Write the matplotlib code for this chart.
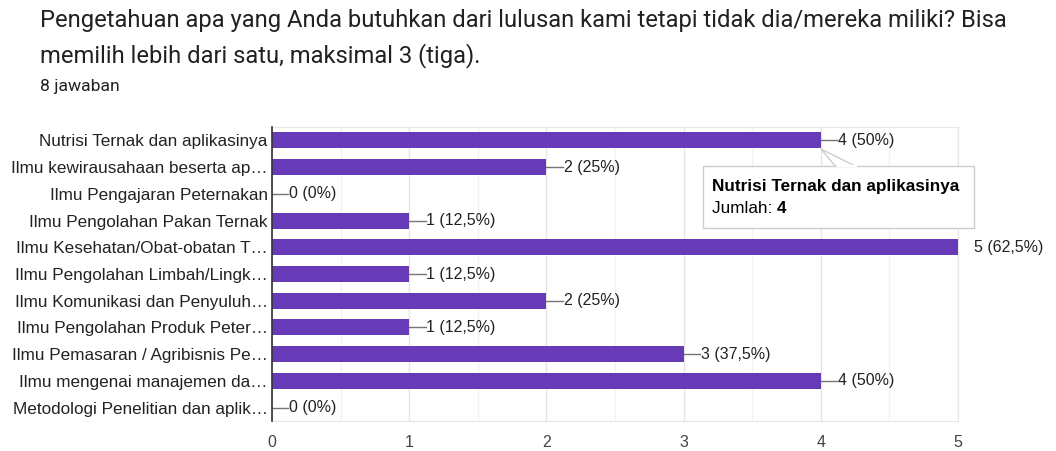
import matplotlib.pyplot as plt
from matplotlib.patches import FancyBboxPatch, Polygon
import numpy as np

plt.rcParams['font.family'] = ['Liberation Sans', 'DejaVu Sans']

#%% Data
categories = [
    "Nutrisi Ternak dan aplikasinya",
    "Ilmu kewirausahaan beserta ap…",
    "Ilmu Pengajaran Peternakan",
    "Ilmu Pengolahan Pakan Ternak",
    "Ilmu Kesehatan/Obat-obatan T…",
    "Ilmu Pengolahan Limbah/Lingk…",
    "Ilmu Komunikasi dan Penyuluh…",
    "Ilmu Pengolahan Produk Peter…",
    "Ilmu Pemasaran / Agribisnis Pe…",
    "Ilmu mengenai manajemen da…",
    "Metodologi Penelitian dan aplik…",
]
counts = [4, 2, 0, 1, 5, 1, 2, 1, 3, 4, 0]
labels = ["4 (50%)", "2 (25%)", "0 (0%)", "1 (12,5%)", "5 (62,5%)", "1 (12,5%)",
          "2 (25%)", "1 (12,5%)", "3 (37,5%)", "4 (50%)", "0 (0%)"]
xticks = [0, 1, 2, 3, 4, 5]

#%% Plot
W, H = 1056, 451
fig = plt.figure(figsize=(W / 100, H / 100), dpi=100)
ax = fig.add_axes([272 / W, 1 - 421 / H, (958 - 272) / W, (421 - 127) / H])

purple = '#673ab7'
fs = 12.3
fv = 11.5
y = np.arange(len(categories))
ax.barh(y, counts, height=0.6, color=purple, zorder=3)
ax.set_ylim(len(categories) - 0.5, -0.5)
ax.set_xlim(0, 5)

for yi, c, lab in zip(y, counts, labels):
    if c < 5:
        ax.plot([c, c + 0.12], [yi, yi], color='#757575', lw=1, zorder=4, clip_on=False)
        ax.text(c + 0.125, yi, lab, va='center', ha='left', fontsize=fv, color='#222222')
    else:
        ax.text(c + 0.12, yi, lab, va='center', ha='left', fontsize=fv, color='#222222')

ax.set_yticks(y)
ax.set_yticklabels(categories, fontsize=fs, color='#222222')
ax.set_xticks(xticks)
ax.set_xticklabels([str(t) for t in xticks], fontsize=fv, color='#444444')
ax.set_xticks(np.arange(0.5, 5, 1), minor=True)
ax.tick_params(axis='both', which='both', length=0, pad=3)
ax.tick_params(axis='x', pad=10)
ax.grid(axis='x', which='major', color='#e6e6e6', lw=1, zorder=0)
ax.grid(axis='x', which='minor', color='#f2f2f2', lw=1, zorder=0)
for side in ['top', 'right', 'bottom']:
    ax.spines[side].set_color('#e6e6e6')
ax.spines['left'].set_color('#333333')
ax.spines['left'].set_linewidth(1.2)
ax.spines['left'].set_zorder(5)

#%% Titles
tfont = ['Roboto', 'DejaVu Sans']
fig.text(40 / W, 1 - 20 / H, "Pengetahuan apa yang Anda butuhkan dari lulusan kami tetapi tidak dia/mereka miliki? Bisa",
         fontsize=17.1, color='#202124', va='center', family=tfont)
fig.text(40 / W, 1 - 56 / H, "memilih lebih dari satu, maksimal 3 (tiga).",
         fontsize=17.1, color='#202124', va='center', family=tfont)
fig.text(40 / W, 1 - 86 / H, "8 jawaban", fontsize=12.6, color='#202124', va='center', family=tfont)

#%% Tooltip
tf = fig.transFigure
ptr = Polygon([(821 / W, 1 - 149 / H), (857 / W, 1 - 167 / H), (836 / W, 1 - 167 / H)],
              closed=True, transform=tf, facecolor='white', edgecolor='#cccccc', lw=1, zorder=10)
fig.add_artist(ptr)
box = FancyBboxPatch((703 / W, 1 - 228 / H), (974 - 703) / W, (228 - 166) / H,
                     boxstyle='square,pad=0', transform=tf, facecolor='white',
                     edgecolor='#cccccc', lw=1, zorder=11)
fig.add_artist(box)
fig.add_artist(plt.Line2D([837.5 / W, 855.5 / W], [1 - 166 / H, 1 - 166 / H], transform=tf,
                          color='white', lw=1.5, zorder=12))
fig.text(712 / W, 1 - 186 / H, "Nutrisi Ternak dan aplikasinya", fontsize=fs,
         fontweight='bold', color='#000000', va='center', zorder=13)
t1 = fig.text(712 / W, 1 - 209 / H, "Jumlah: ", fontsize=fs, color='#000000', va='center', zorder=13)
fig.canvas.draw()
bb = t1.get_window_extent()
fig.text(bb.x1 / W, 1 - 209 / H, "4", fontsize=fs, fontweight='bold', color='#000000',
         va='center', zorder=13)

fig.savefig('out.png', dpi=100)
